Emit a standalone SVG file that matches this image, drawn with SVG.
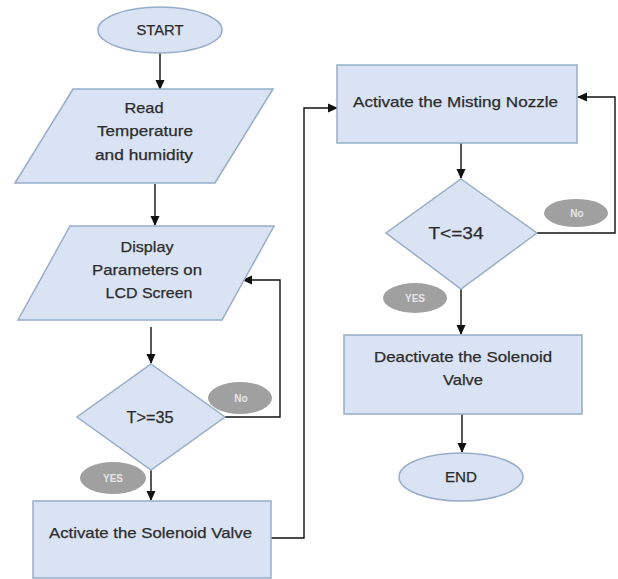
<svg xmlns="http://www.w3.org/2000/svg" width="618" height="579" viewBox="0 0 618 579">
<style>
.shape{fill:#dae3f3;stroke:#98adc8;stroke-width:1.5}
.tag{fill:#a0a0a0;stroke:none}
.t{font-family:"Liberation Sans",Arial,sans-serif;font-size:15px;fill:#2b2b2b;stroke:#2b2b2b;stroke-width:0.25;text-anchor:middle}
.d{font-size:16px}
.tt{font-family:"Liberation Sans",Arial,sans-serif;font-size:10px;font-weight:bold;fill:#e6e6e6;text-anchor:middle}
.c{fill:none;stroke:#111;stroke-width:1.4}
</style>
<defs>
<marker id="ah" markerWidth="10" markerHeight="10" refX="9" refY="5" orient="auto" markerUnits="userSpaceOnUse">
<path d="M0,0.5 L10,5 L0,9.5 Z" fill="#111"/>
</marker>
</defs>
<rect width="618" height="579" fill="#fff"/>
<g id="connectors">
<path class="c" d="M160,53 V89" marker-end="url(#ah)"/>
<path class="c" d="M155,184 V225" marker-end="url(#ah)"/>
<path class="c" d="M151,327 V363" marker-end="url(#ah)"/>
<path class="c" d="M225,417 H280 V280 H243" marker-end="url(#ah)"/>
<path class="c" d="M151,470 V500" marker-end="url(#ah)"/>
<path class="c" d="M271,538 H304 V108 H337" marker-end="url(#ah)"/>
<path class="c" d="M461,143 V178" marker-end="url(#ah)"/>
<path class="c" d="M537,233 H615 V97 H578" marker-end="url(#ah)"/>
<path class="c" d="M461,289 V334" marker-end="url(#ah)"/>
<path class="c" d="M462,414 V452" marker-end="url(#ah)"/>
</g>
<g id="start">
<ellipse class="shape" cx="160" cy="30" rx="62" ry="23"/>
<text class="t" x="160" y="35" textLength="47" lengthAdjust="spacingAndGlyphs">START</text>
</g>
<g id="read">
<polygon class="shape" points="73,89 273,89 215,183 15,183"/>
<text class="t" x="144" y="113" textLength="39" lengthAdjust="spacingAndGlyphs">Read</text>
<text class="t" x="145" y="136" textLength="96" lengthAdjust="spacingAndGlyphs">Temperature</text>
<text class="t" x="144" y="160" textLength="98" lengthAdjust="spacingAndGlyphs">and humidity</text>
</g>
<g id="display">
<polygon class="shape" points="70,226 274,226 222,320 18,320"/>
<text class="t" x="147" y="252" textLength="53" lengthAdjust="spacingAndGlyphs">Display</text>
<text class="t" x="147" y="275" textLength="110" lengthAdjust="spacingAndGlyphs">Parameters on</text>
<text class="t" x="149" y="298" textLength="87" lengthAdjust="spacingAndGlyphs">LCD Screen</text>
</g>
<g id="decision1">
<polygon class="shape" points="151,364 225,417 151,470 77,417"/>
<text class="t d" x="150" y="423" textLength="47" lengthAdjust="spacingAndGlyphs">T&gt;=35</text>
</g>
<g id="no1">
<ellipse class="tag" cx="240" cy="398" rx="32" ry="16"/>
<text class="tt" x="241" y="402">No</text>
</g>
<g id="yes1">
<ellipse class="tag" cx="113" cy="478" rx="33" ry="16"/>
<text class="tt" x="113" y="482">YES</text>
</g>
<g id="solenoid">
<rect class="shape" x="33" y="501" width="238" height="77"/>
<text class="t" x="150.5" y="538" textLength="203" lengthAdjust="spacingAndGlyphs">Activate the Solenoid Valve</text>
</g>
<g id="misting">
<rect class="shape" x="337" y="65" width="240" height="78"/>
<text class="t" x="455.5" y="107" textLength="205" lengthAdjust="spacingAndGlyphs">Activate the Misting Nozzle</text>
</g>
<g id="decision2">
<polygon class="shape" points="461,179 537,233 461,289 386,233"/>
<text class="t d" x="456" y="239" textLength="55" lengthAdjust="spacingAndGlyphs">T&lt;=34</text>
</g>
<g id="no2">
<ellipse class="tag" cx="576" cy="213" rx="32" ry="14"/>
<text class="tt" x="577" y="217">No</text>
</g>
<g id="yes2">
<ellipse class="tag" cx="415" cy="298" rx="32" ry="15"/>
<text class="tt" x="415" y="302">YES</text>
</g>
<g id="deactivate">
<rect class="shape" x="344" y="335" width="238" height="79"/>
<text class="t" x="463" y="362" textLength="178" lengthAdjust="spacingAndGlyphs">Deactivate the Solenoid</text>
<text class="t" x="463" y="385" textLength="40" lengthAdjust="spacingAndGlyphs">Valve</text>
</g>
<g id="end">
<ellipse class="shape" cx="461" cy="477" rx="62" ry="24"/>
<text class="t" x="461" y="482" textLength="32" lengthAdjust="spacingAndGlyphs">END</text>
</g>
</svg>
